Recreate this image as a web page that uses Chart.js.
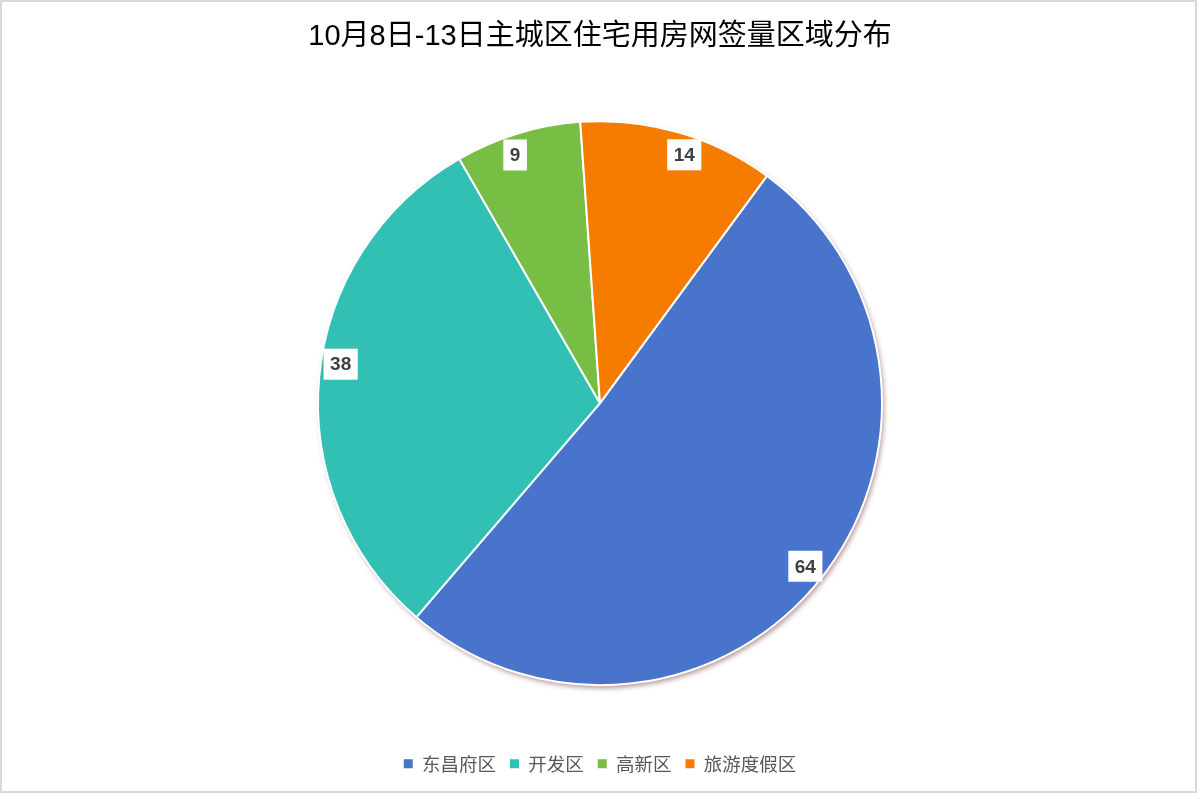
<!DOCTYPE html>
<html>
<head>
<meta charset="utf-8">
<script src="https://cdn.jsdelivr.net/npm/chart.js@4/dist/chart.umd.min.js"></script>
<style>
html,body{margin:0;padding:0;background:#fff;}
#wrap{position:absolute;left:0;top:0;width:1200px;height:809px;}
</style>
</head>
<body>
<div id="wrap"><canvas id="c" width="1200" height="809"></canvas></div>
<script>
const titleText = '10月8日-13日主城区住宅用房网签量区域分布';
const categories = ['东昌府区', '开发区', '高新区', '旅游度假区'];
const values = [64, 38, 9, 14];
const colors = ['#4874CB', '#32C0B4', '#78BE44', '#F67C00'];

const frame = {
  id: 'frame',
  beforeDraw(chart) {
    const ctx = chart.ctx;
    ctx.save();
    ctx.fillStyle = '#fff';
    ctx.fillRect(0, 0, chart.width, chart.height);
    ctx.strokeStyle = '#d9d9d9';
    ctx.lineWidth = 2;
    ctx.strokeRect(1, 1, 1195, 791);
    ctx.restore();
  }
};

const shadow = {
  id: 'shadow',
  beforeDatasetsDraw(chart) {
    const arc = chart.getDatasetMeta(0).data[0];
    if (!arc) return;
    const ctx = chart.ctx;
    ctx.save();
    ctx.shadowColor = 'rgba(110,50,50,0.5)';
    ctx.shadowBlur = 5;
    ctx.shadowOffsetX = 2;
    ctx.shadowOffsetY = 3;
    ctx.beginPath();
    ctx.arc(arc.x, arc.y, arc.outerRadius, 0, Math.PI * 2);
    ctx.fillStyle = '#fff';
    ctx.fill();
    ctx.restore();
  }
};

const labels = {
  id: 'valueLabels',
  afterDatasetsDraw(chart, args, opts) {
    const ctx = chart.ctx;
    const meta = chart.getDatasetMeta(0);
    const ds = chart.data.datasets[0];
    const nudge = opts.angleNudge || [];
    ctx.save();
    ctx.font = 'bold 19px "Liberation Sans", Arial, sans-serif';
    ctx.textAlign = 'center';
    ctx.textBaseline = 'middle';
    meta.data.forEach((a, i) => {
      const mid = (a.startAngle + a.endAngle) / 2 + (nudge[i] || 0) * Math.PI / 180;
      const r = a.outerRadius * 0.93;
      const x = a.x + Math.cos(mid) * r;
      const y = a.y + Math.sin(mid) * r;
      const t = String(ds.data[i]);
      const w = ctx.measureText(t).width + 13;
      const h = 31;
      ctx.fillStyle = '#fff';
      ctx.fillRect(x - w / 2, y - h / 2, w, h);
      ctx.fillStyle = '#404040';
      ctx.fillText(t, x, y + 1);
    });
    ctx.restore();
  }
};

new Chart(document.getElementById('c'), {
  type: 'pie',
  data: {
    labels: categories,
    datasets: [{
      data: values,
      backgroundColor: colors,
      borderColor: '#ffffff',
      borderWidth: 2
    }]
  },
  options: {
    responsive: false,
    animation: false,
    devicePixelRatio: 1,
    rotation: 36.3,
    radius: 282,
    layout: { padding: { top: 0, bottom: 26, left: 0, right: 0 } },
    plugins: {
      title: {
        display: true,
        text: titleText,
        color: '#000',
        font: { family: '"Liberation Sans", "Noto Sans CJK SC", sans-serif', size: 29, weight: 'normal', lineHeight: 1.2 },
        padding: { top: 20, bottom: 11 }
      },
      legend: {
        position: 'bottom',
        labels: {
          color: '#595959',
          font: { family: '"Noto Sans CJK SC", sans-serif', size: 18.5 },
          boxWidth: 9,
          boxHeight: 9,
          padding: 14,
          generateLabels(chart) {
            const base = Chart.overrides.pie.plugins.legend.labels.generateLabels(chart);
            return base.map(l => Object.assign(l, { lineWidth: 0, strokeStyle: 'rgba(0,0,0,0)' }));
          }
        }
      },
      valueLabels: { angleNudge: [0, 3.2, -1.9, 2.6] },
      tooltip: { enabled: false }
    }
  },
  plugins: [frame, shadow, labels]
});
</script>
</body>
</html>
